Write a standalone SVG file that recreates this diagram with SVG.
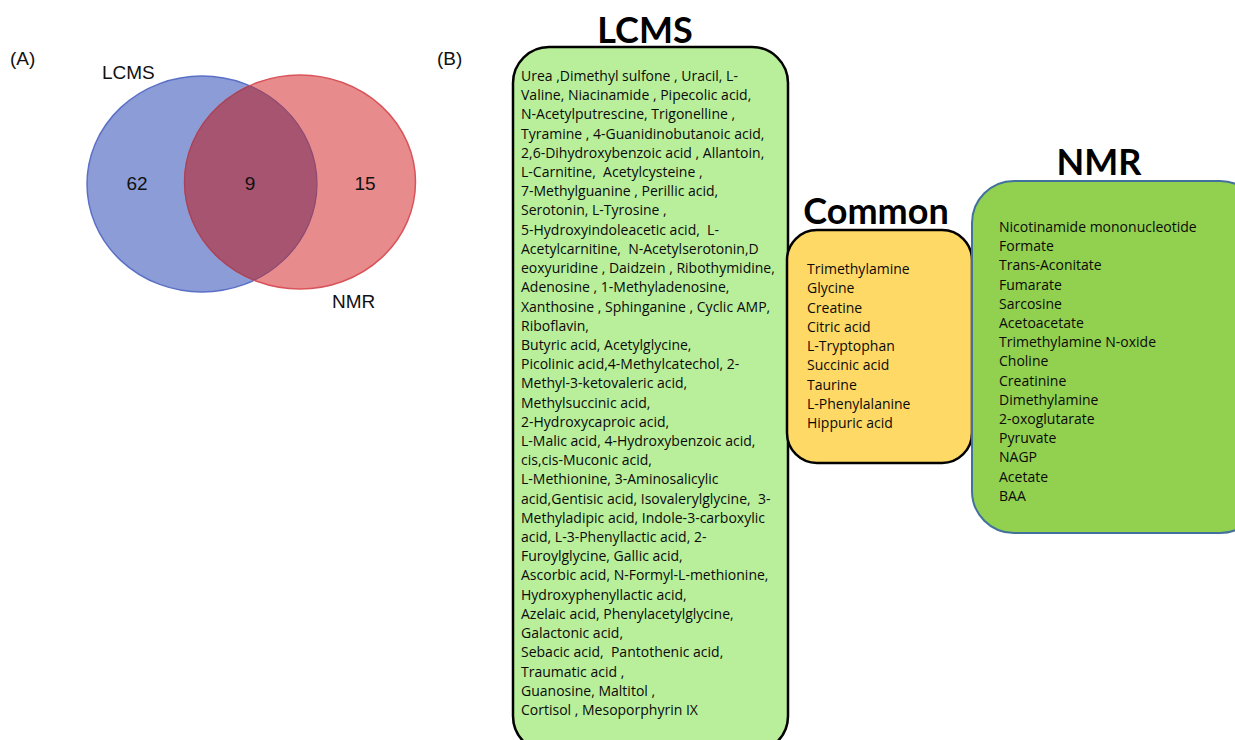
<svg xmlns="http://www.w3.org/2000/svg" width="1235" height="740" viewBox="0 0 1235 740">
<style>
.lbl{font-family:"Liberation Sans",Arial,sans-serif;font-size:19px;fill:#111}
.title{font-family:Lato,"Open Sans",sans-serif;font-weight:bold;font-size:36px;fill:#000;text-anchor:middle}
.item{font-family:"Open Sans",Lato,sans-serif;font-size:14px;fill:#0a0a0a;white-space:pre}
</style>
<defs>
<clipPath id="blueClip"><ellipse cx="202" cy="184" rx="115" ry="108"/></clipPath>
<clipPath id="redClip"><ellipse cx="300" cy="182" rx="115.5" ry="107"/></clipPath>
</defs>
<rect width="1235" height="740" fill="#fff"/>
<g id="venn">
<ellipse cx="202" cy="184" rx="115" ry="108" fill="#8b9cd7" stroke="#5b70c6" stroke-width="1.5"/>
<ellipse cx="300" cy="182" rx="115.5" ry="107" fill="#e88b8c" stroke="#d9545a" stroke-width="1.5"/>
<ellipse cx="300" cy="182" rx="115.5" ry="107" fill="#a65470" clip-path="url(#blueClip)"/>
<ellipse cx="202" cy="184" rx="115" ry="108" fill="none" stroke="#8a4a72" stroke-width="1.2" clip-path="url(#redClip)"/>
<ellipse cx="300" cy="182" rx="115.5" ry="107" fill="none" stroke="#a0445e" stroke-width="1.2" clip-path="url(#blueClip)"/>
<text class="lbl" x="10" y="65">(A)</text>
<text class="lbl" x="102" y="79">LCMS</text>
<text class="lbl" x="332" y="308">NMR</text>
<text class="lbl" x="137" y="190" text-anchor="middle">62</text>
<text class="lbl" x="250" y="190" text-anchor="middle">9</text>
<text class="lbl" x="365" y="190" text-anchor="middle">15</text>
</g>
<text class="lbl" x="437" y="65">(B)</text>
<g id="lcms">
<text class="title" x="645" y="43">LCMS</text>
<rect x="513" y="47" width="275" height="705" rx="36" fill="#b9ef9b" stroke="#000" stroke-width="2.5"/>
<text class="item" x="521" y="81"><tspan x="521">Urea ,Dimethyl sulfone , Uracil, L-</tspan><tspan x="521" dy="19.21">Valine, Niacinamide , Pipecolic acid,</tspan><tspan x="521" dy="19.21">N-Acetylputrescine, Trigonelline ,</tspan><tspan x="521" dy="19.21">Tyramine , 4-Guanidinobutanoic acid,</tspan><tspan x="521" dy="19.21">2,6-Dihydroxybenzoic acid , Allantoin,</tspan><tspan x="521" dy="19.21">L-Carnitine,  Acetylcysteine ,</tspan><tspan x="521" dy="19.21">7-Methylguanine , Perillic acid,</tspan><tspan x="521" dy="19.21">Serotonin, L-Tyrosine ,</tspan><tspan x="521" dy="19.21">5-Hydroxyindoleacetic acid,  L-</tspan><tspan x="521" dy="19.21">Acetylcarnitine,  N-Acetylserotonin,D</tspan><tspan x="521" dy="19.21">eoxyuridine , Daidzein , Ribothymidine,</tspan><tspan x="521" dy="19.21">Adenosine , 1-Methyladenosine,</tspan><tspan x="521" dy="19.21">Xanthosine , Sphinganine , Cyclic AMP,</tspan><tspan x="521" dy="19.21">Riboflavin,</tspan><tspan x="521" dy="19.21">Butyric acid, Acetylglycine,</tspan><tspan x="521" dy="19.21">Picolinic acid,4-Methylcatechol, 2-</tspan><tspan x="521" dy="19.21">Methyl-3-ketovaleric acid,</tspan><tspan x="521" dy="19.21">Methylsuccinic acid,</tspan><tspan x="521" dy="19.21">2-Hydroxycaproic acid,</tspan><tspan x="521" dy="19.21">L-Malic acid, 4-Hydroxybenzoic acid,</tspan><tspan x="521" dy="19.21">cis,cis-Muconic acid,</tspan><tspan x="521" dy="19.21">L-Methionine, 3-Aminosalicylic</tspan><tspan x="521" dy="19.21">acid,Gentisic acid, Isovalerylglycine,  3-</tspan><tspan x="521" dy="19.21">Methyladipic acid, Indole-3-carboxylic</tspan><tspan x="521" dy="19.21">acid, L-3-Phenyllactic acid, 2-</tspan><tspan x="521" dy="19.21">Furoylglycine, Gallic acid,</tspan><tspan x="521" dy="19.21">Ascorbic acid, N-Formyl-L-methionine,</tspan><tspan x="521" dy="19.21">Hydroxyphenyllactic acid,</tspan><tspan x="521" dy="19.21">Azelaic acid, Phenylacetylglycine,</tspan><tspan x="521" dy="19.21">Galactonic acid,</tspan><tspan x="521" dy="19.21">Sebacic acid,  Pantothenic acid,</tspan><tspan x="521" dy="19.21">Traumatic acid ,</tspan><tspan x="521" dy="19.21">Guanosine, Maltitol ,</tspan><tspan x="521" dy="19.21">Cortisol , Mesoporphyrin IX</tspan></text>
</g>
<g id="common">
<text class="title" x="876" y="224">Common</text>
<rect x="787" y="230" width="185" height="233" rx="30" fill="#ffd966" stroke="#000" stroke-width="2.5"/>
<text class="item" x="807" y="274"><tspan x="807">Trimethylamine</tspan><tspan x="807" dy="19.25">Glycine</tspan><tspan x="807" dy="19.25">Creatine</tspan><tspan x="807" dy="19.25">Citric acid</tspan><tspan x="807" dy="19.25">L-Tryptophan</tspan><tspan x="807" dy="19.25">Succinic acid</tspan><tspan x="807" dy="19.25">Taurine</tspan><tspan x="807" dy="19.25">L-Phenylalanine</tspan><tspan x="807" dy="19.25">Hippuric acid</tspan></text>
</g>
<g id="nmr">
<text class="title" x="1099" y="175">NMR</text>
<rect x="972" y="181" width="290" height="352" rx="42" fill="#92d050" stroke="#41719c" stroke-width="2"/>
<text class="item" x="999" y="232"><tspan x="999">Nicotinamide mononucleotide</tspan><tspan x="999" dy="19.2">Formate</tspan><tspan x="999" dy="19.2">Trans-Aconitate</tspan><tspan x="999" dy="19.2">Fumarate</tspan><tspan x="999" dy="19.2">Sarcosine</tspan><tspan x="999" dy="19.2">Acetoacetate</tspan><tspan x="999" dy="19.2">Trimethylamine N-oxide</tspan><tspan x="999" dy="19.2">Choline</tspan><tspan x="999" dy="19.2">Creatinine</tspan><tspan x="999" dy="19.2">Dimethylamine</tspan><tspan x="999" dy="19.2">2-oxoglutarate</tspan><tspan x="999" dy="19.2">Pyruvate</tspan><tspan x="999" dy="19.2">NAGP</tspan><tspan x="999" dy="19.2">Acetate</tspan><tspan x="999" dy="19.2">BAA</tspan></text>
</g>
<g id="connectors"/>
</svg>
